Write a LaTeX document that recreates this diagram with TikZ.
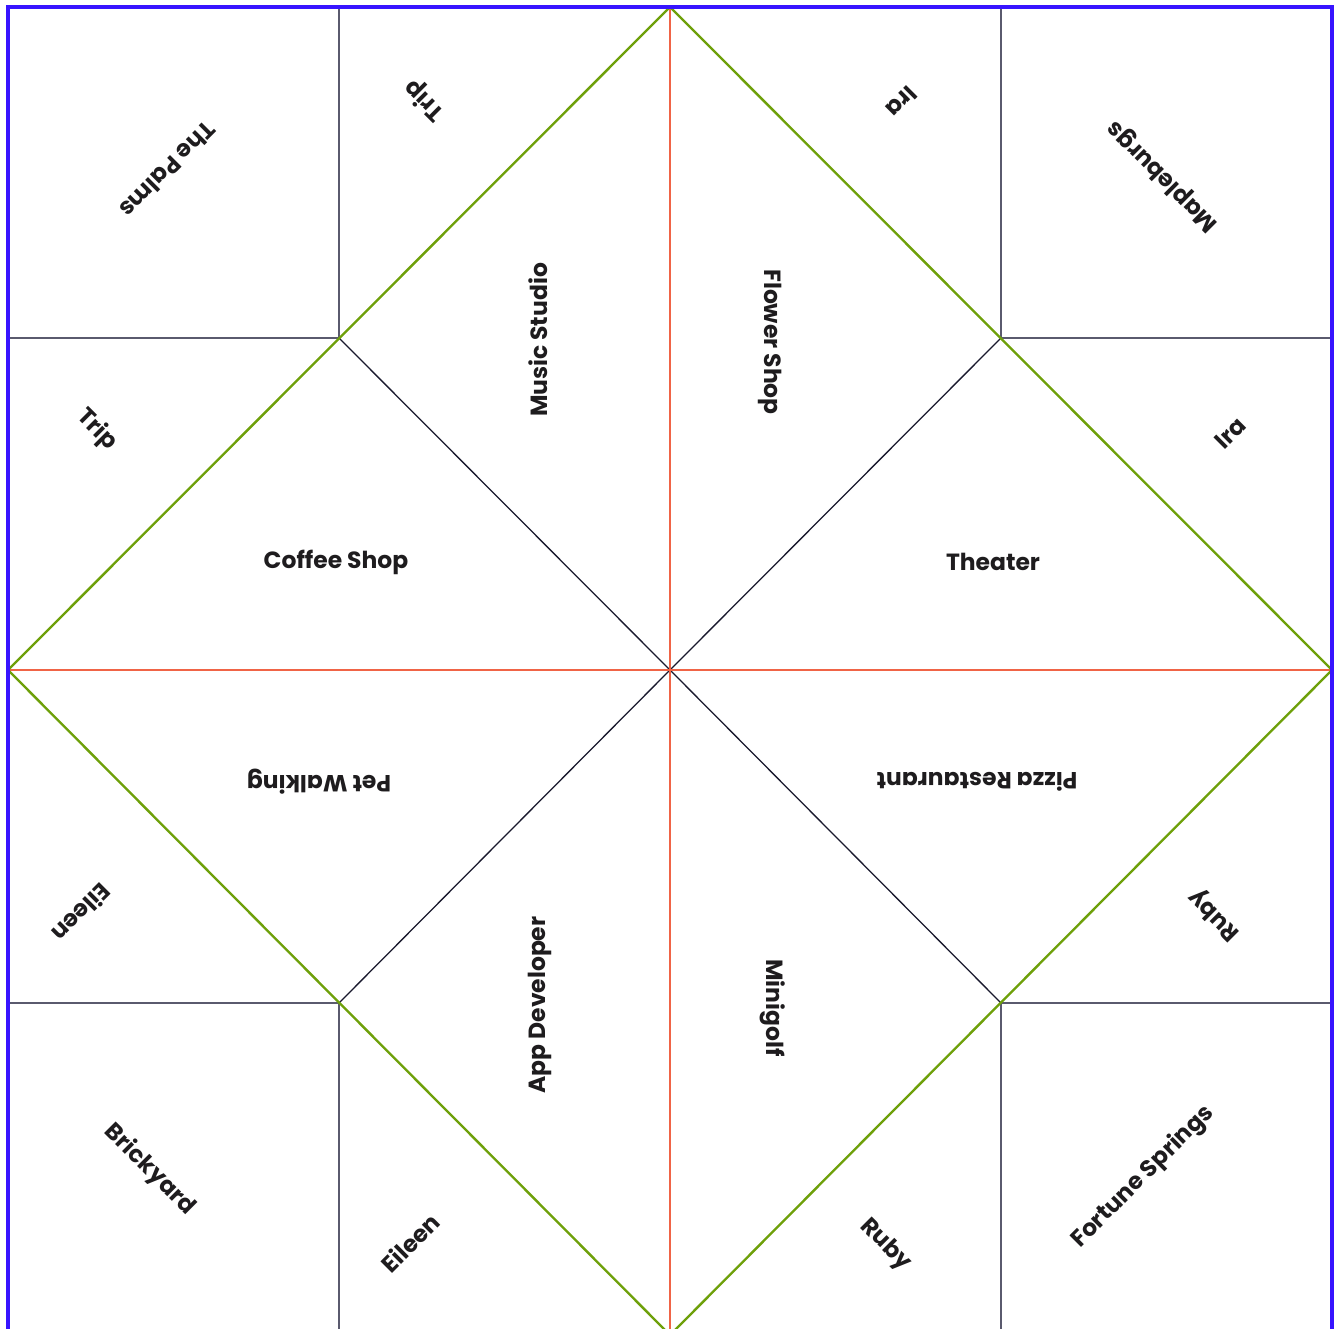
\documentclass[tikz,border=0pt]{standalone}
\usepackage{fontspec}
\setmainfont{Poppins}
\definecolor{borderblue}{RGB}{55,20,255}
\definecolor{diagreen}{RGB}{110,160,10}
\definecolor{crossred}{RGB}{240,100,70}
\definecolor{inkline}{RGB}{25,25,45}
\definecolor{gridgray}{RGB}{90,90,110}
\definecolor{txt}{RGB}{30,28,30}
\begin{document}
\begin{tikzpicture}[x=0.03cm,y=-0.03cm,
  lbl/.style={font=\fontsize{20}{23}\selectfont\bfseries, text=txt, inner sep=0pt},
  borderline/.style={draw=borderblue, line width=2.6pt},
  diamondline/.style={draw=diagreen, line width=2pt},
  crossline/.style={draw=crossred, line width=2.2pt},
  foldline/.style={draw=inkline, line width=1.1pt},
  gridline/.style={draw=gridgray, line width=0.9pt}]
\useasboundingbox (0,0) rectangle (1336,1329);
\clip (0,0) rectangle (1336,1329);
% key coordinates
\coordinate (tl) at (8,7);
\coordinate (tr) at (1332,7);
\coordinate (bl) at (8,1335);
\coordinate (br) at (1332,1335);
\coordinate (c) at (670,670);
\coordinate (top) at (670,7);
\coordinate (bot) at (670,1335);
\coordinate (lft) at (8,670);
\coordinate (rgt) at (1332,670);
\coordinate (q1) at (339,338);
\coordinate (q2) at (1001,338);
\coordinate (q3) at (339,1003);
\coordinate (q4) at (1001,1003);
\coordinate (q1t) at (339,7);
\coordinate (q1l) at (8,338);
\coordinate (q2t) at (1001,7);
\coordinate (q2r) at (1332,338);
\coordinate (q3b) at (339,1335);
\coordinate (q3l) at (8,1003);
\coordinate (q4b) at (1001,1335);
\coordinate (q4r) at (1332,1003);
% grid lines of corner squares
\draw[gridline] (q1t) -- (q1) -- (q1l);
\draw[gridline] (q2t) -- (q2) -- (q2r);
\draw[gridline] (q3b) -- (q3) -- (q3l);
\draw[gridline] (q4b) -- (q4) -- (q4r);
% inner fold diagonals
\draw[foldline] (q1) -- (c) -- (q4);
\draw[foldline] (q2) -- (c) -- (q3);
% cross
\draw[crossline] (top) -- (bot);
\draw[crossline] (lft) -- (rgt);
% diamond
\draw[diamondline] (top) -- (rgt) -- (bot) -- (lft) -- cycle;
% border
\draw[borderline] (tl) rectangle (br);
% labels
\node[lbl, rotate=225] (palms) at (168,170) {The Palms};
\node[lbl, rotate=135] (tripT) at (425,100) {Trip};
\node[lbl, rotate=225] (iraT) at (902,102) {Ira};
\node[lbl, rotate=135] (maple) at (1163,176) {Mapleburgs};
\node[lbl, rotate=-45] (tripL) at (97,430) {Trip};
\node[lbl, rotate=45] (iraR) at (1230,433) {Ira};
\node[lbl, rotate=90] (music) at (538,340) {Music Studio};
\node[lbl, rotate=-90] (flower) at (770,342) {Flower Shop};
\node[lbl] (coffee) at (336,562) {Coffee Shop};
\node[lbl] (theater) at (993,562) {Theater};
\node[lbl, rotate=180] (pet) at (319,782) {Pet Walking};
\node[lbl, rotate=180] (pizza) at (977,782) {Pizza Restaurant};
\node[lbl, rotate=225] (eileenL) at (82,913) {Eileen};
\node[lbl, rotate=135] (rubyR) at (1215,915) {Ruby};
\node[lbl, rotate=90] (app) at (540,1005) {App Developer};
\node[lbl, rotate=-90] (mini) at (773,1008) {Minigolf};
\node[lbl, rotate=-45] (brick) at (150,1170) {Brickyard};
\node[lbl, rotate=45] (eileenB) at (410,1243) {Eileen};
\node[lbl, rotate=-45] (rubyB) at (885,1245) {Ruby};
\node[lbl, rotate=45] (fortune) at (1143,1177) {Fortune Springs};
\end{tikzpicture}
\end{document}
